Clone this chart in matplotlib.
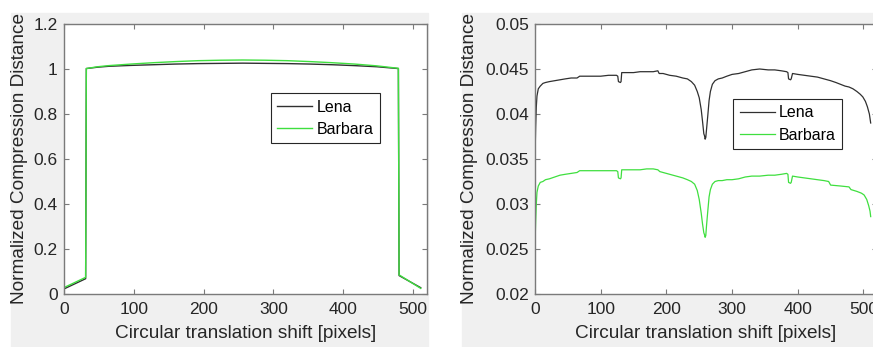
import matplotlib.pyplot as plt
from matplotlib.patches import Rectangle

plt.rcParams['font.family'] = ['Liberation Sans', 'DejaVu Sans']

# left panel: NCD of original vs shifted image (full range)
shift_full = [1, 31, 32, 48, 64, 96, 128, 160, 192, 224, 256, 288, 320, 352,
              384, 416, 448, 479, 480, 511]
lena_full = [0.024, 0.068, 1.002, 1.008, 1.012, 1.016, 1.019, 1.022, 1.024,
             1.025, 1.026, 1.025, 1.024, 1.022, 1.019, 1.015, 1.010, 1.002,
             0.082, 0.028]
barbara_full = [0.030, 0.074, 1.002, 1.010, 1.015, 1.022, 1.028, 1.033, 1.037,
                1.039, 1.040, 1.039, 1.037, 1.033, 1.028, 1.022, 1.014, 1.003,
                0.085, 0.025]

# right panel: zoomed range
shift_lena = [0, 1, 2, 3, 5, 8, 12, 16, 22, 30, 38, 46, 55, 64, 68, 72, 85,
              100, 112, 124, 126, 127, 130, 131, 132, 140, 150, 160, 170, 180,
              187, 189, 195, 205, 215, 225, 232, 238, 243, 247, 250, 253, 255,
              257, 258, 259, 260, 261, 263, 265, 267, 270, 274, 279, 285, 292,
              300, 310, 320, 330, 342, 355, 365, 375, 383, 385, 386, 389, 390,
              392, 400, 410, 420, 430, 440, 450, 458, 465, 472, 478, 484, 490,
              495, 499, 503, 506, 509, 511]
lena = [0.0350, 0.0385, 0.0408, 0.0420, 0.0428, 0.0431, 0.0434, 0.0435,
        0.0436, 0.0437, 0.0438, 0.0439, 0.0440, 0.0440, 0.0442, 0.0442,
        0.0442, 0.0442, 0.0443, 0.0443, 0.0442, 0.0436, 0.0435, 0.0436,
        0.0446, 0.0446, 0.0446, 0.0447, 0.0447, 0.0447, 0.0448, 0.0445,
        0.0445, 0.0443, 0.0442, 0.0440, 0.0439, 0.0436, 0.0432, 0.0425,
        0.0418, 0.0405, 0.0392, 0.0378, 0.0376, 0.0372, 0.0374, 0.0382,
        0.0398, 0.0415, 0.0425, 0.0433, 0.0437, 0.0439, 0.0440, 0.0442,
        0.0444, 0.0445, 0.0447, 0.0449, 0.0450, 0.0449, 0.0449, 0.0448,
        0.0447, 0.0446, 0.0439, 0.0438, 0.0439, 0.0445, 0.0444, 0.0443,
        0.0442, 0.0441, 0.0439, 0.0437, 0.0435, 0.0433, 0.0431, 0.0430,
        0.0428, 0.0425, 0.0422, 0.0419, 0.0414, 0.0408, 0.0400, 0.0390]

shift_barbara = [0, 1, 2, 3, 5, 8, 12, 16, 22, 30, 38, 46, 55, 64, 68, 72, 85,
                 100, 112, 124, 126, 127, 130, 131, 132, 140, 150, 160, 170,
                 180, 187, 190, 195, 205, 215, 225, 232, 238, 243, 247, 250,
                 253, 255, 257, 258, 259, 260, 261, 263, 265, 267, 270, 274,
                 279, 285, 292, 300, 310, 320, 330, 342, 355, 365, 375, 383,
                 385, 386, 389, 390, 392, 400, 410, 420, 430, 440, 447, 450,
                 465, 478, 481, 490, 497, 501, 505, 508, 510, 511]
barbara = [0.0255, 0.0280, 0.0300, 0.0313, 0.0320, 0.0324, 0.0325, 0.0327,
           0.0328, 0.0330, 0.0332, 0.0333, 0.0334, 0.0335, 0.0337, 0.0337,
           0.0337, 0.0337, 0.0337, 0.0337, 0.0336, 0.0329, 0.0328, 0.0329,
           0.0338, 0.0338, 0.0338, 0.0338, 0.0339, 0.0339, 0.0338, 0.0336,
           0.0335, 0.0333, 0.0331, 0.0329, 0.0327, 0.0325, 0.0322, 0.0315,
           0.0305, 0.0290, 0.0278, 0.0268, 0.0266, 0.0263, 0.0265, 0.0275,
           0.0292, 0.0308, 0.0316, 0.0322, 0.0325, 0.0326, 0.0326, 0.0327,
           0.0327, 0.0328, 0.0330, 0.0331, 0.0331, 0.0332, 0.0332, 0.0333,
           0.0334, 0.0333, 0.0324, 0.0323, 0.0324, 0.0331, 0.0330, 0.0329,
           0.0328, 0.0327, 0.0326, 0.0325, 0.0321, 0.0320, 0.0319, 0.0316,
           0.0314, 0.0312, 0.0310, 0.0305, 0.0298, 0.0292, 0.0286]

xticks = [0, 100, 200, 300, 400, 500]
yticks_full = [0, 0.2, 0.4, 0.6, 0.8, 1, 1.2]
yticks_zoom = [0.02, 0.025, 0.03, 0.035, 0.04, 0.045, 0.05]

W, H = 873, 347
fig = plt.figure(figsize=(W / 100, H / 100), dpi=100)

# gray MATLAB-like figure panels
for x0, x1 in [(11, 428), (462, 873)]:
    fig.add_artist(Rectangle((x0 / W, 0), (x1 - x0) / W, (H - 13) / H,
                             transform=fig.transFigure, color='#f0f0f0',
                             zorder=-10))

ax1 = fig.add_axes([64 / W, 53 / H, 363 / W, 270 / H])
ax2 = fig.add_axes([535 / W, 53 / H, 341.6 / W, 270 / H])

lena_col = '#303030'
barb_col = '#3fdf3f'

ax1.plot(shift_full, lena_full, color=lena_col, lw=1, label='Lena')
ax1.plot(shift_full, barbara_full, color=barb_col, lw=1, label='Barbara')
ax1.set_ylim(0, 1.2)
ax1.set_yticks(yticks_full)
ax1.set_yticklabels(['0', '0.2', '0.4', '0.6', '0.8', '1', '1.2'])

ax2.plot(shift_lena, lena, color=lena_col, lw=0.9, label='Lena')
ax2.plot(shift_barbara, barbara, color=barb_col, lw=0.9, label='Barbara')
ax2.set_ylim(0.02, 0.05)
ax2.set_yticks(yticks_zoom)
ax2.set_yticklabels(['0.02', '0.025', '0.03', '0.035', '0.04', '0.045', '0.05'])

for ax, lab_x, leg_anchor in [(ax1, -0.099, (0.570, 0.744)),
                              (ax2, -0.167, (0.580, 0.722))]:
    ax.set_xlim(0, 520)
    ax.set_xticks(xticks)
    ax.set_facecolor('white')
    for s in ax.spines.values():
        s.set_color('#7a7a7a')
        s.set_linewidth(1)
    ax.tick_params(direction='in', length=3.5, width=0.8, color='#7a7a7a',
                   labelsize=12.5, labelcolor='#262626', top=True, right=True)
    ax.tick_params(axis='x', pad=6)
    ax.tick_params(axis='y', pad=4.5)
    ax.set_xlabel('Circular translation shift [pixels]', fontsize=13.7,
                  color='#262626')
    ax.set_ylabel('Normalized Compression Distance', fontsize=13.7,
                  color='#262626')
    ax.xaxis.set_label_coords(0.5, -0.115)
    ax.yaxis.set_label_coords(lab_x, 0.5)
    leg = ax.legend(loc='upper left', bbox_to_anchor=leg_anchor,
                    borderaxespad=0, fancybox=False, framealpha=1,
                    edgecolor='#262626', fontsize=11.5, handlelength=2.2,
                    handletextpad=0.25, borderpad=0.4, labelspacing=0.45)
    leg.get_frame().set_linewidth(0.8)

fig.savefig('out.png', dpi=100)
